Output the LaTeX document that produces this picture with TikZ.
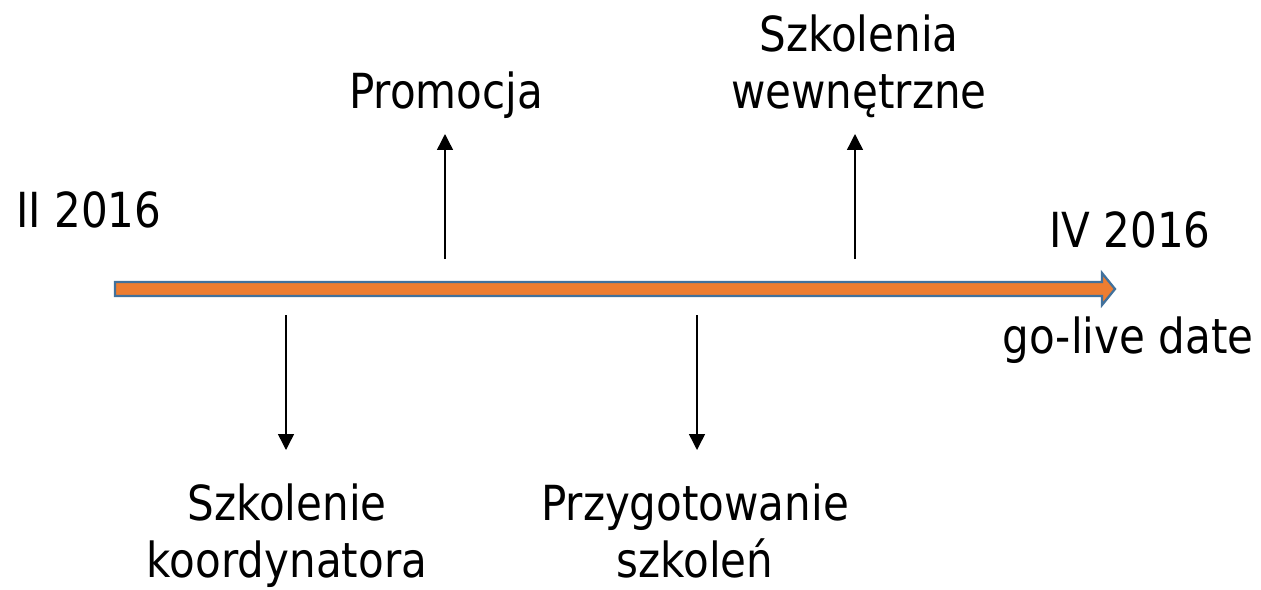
\documentclass[tikz,border=0pt]{standalone}
\usepackage{fontspec}
\setmainfont{DejaVu Sans}[FakeStretch=0.87]
\usetikzlibrary{arrows.meta}
\definecolor{osi}{HTML}{ED7D31}
\definecolor{obrys}{HTML}{41719C}
\tikzset{etykieta/.style={inner sep=0pt, align=center, anchor=base}}
\begin{document}
\begin{tikzpicture}[x=0.02cm, y=-0.02cm, >={Triangle[width=9pt,length=9pt]}, font=\fontsize{27.5}{32.3}\selectfont, line join=miter]
	\useasboundingbox (0,0) rectangle (1261,589);
	\def\ygora{259} \def\ydol{315} % poczatki strzalek
	% os czasu
	\draw[fill=osi, draw=obrys, line width=1.3pt] (115,282) -- (1102,282) -- (1102,273) -- (1115,289) -- (1102,305) -- (1102,296) -- (115,296) -- cycle;
	\node[inner sep=0pt, anchor=base west] (start) at (16,227) {II 2016};
	\node[etykieta] (koniec) at (1130,247) {IV 2016};
	\node[etykieta] (golive) at (1128,353) {go-live date};
	% etapy nad osia
	\node[etykieta] (promocja) at (446,108) {Promocja};
	\node[etykieta] (wewn) at (859,108) {Szkolenia\\wewnętrzne};
	\coordinate (p1) at (445,\ygora); \coordinate (p1k) at (445,134);
	\coordinate (p2) at (855,\ygora); \coordinate (p2k) at (855,134);
	\draw[->, line width=0.8pt] (p1) -- (p1k);
	\draw[->, line width=0.8pt] (p2) -- (p2k);
	% etapy pod osia
	\node[etykieta] (koord) at (287,577) {Szkolenie\\koordynatora};
	\node[etykieta] (przyg) at (695,577) {Przygotowanie\\szkoleń};
	\coordinate (d1) at (286,\ydol); \coordinate (d1k) at (286,450);
	\coordinate (d2) at (697,\ydol); \coordinate (d2k) at (697,450);
	\draw[->, line width=0.8pt] (d1) -- (d1k);
	\draw[->, line width=0.8pt] (d2) -- (d2k);
\end{tikzpicture}
\end{document}
